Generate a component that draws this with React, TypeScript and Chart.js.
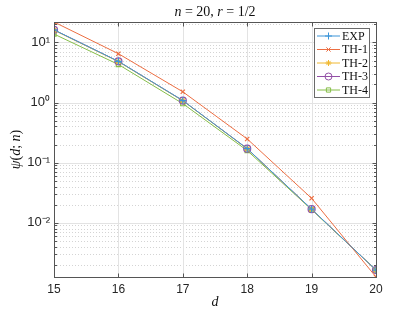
import React, { useEffect, useRef } from "react";
import { Chart, registerables } from "chart.js";
import { drawPoint } from "chart.js/helpers";

Chart.register(...registerables);

// ---- data ----
const dValues = [15, 16, 17, 18, 19, 20];
const expValues = [16.2, 4.85, 1.08, 0.171, 0.0168, 0.00163];
const th1Values = [21.9, 6.5, 1.51, 0.248, 0.0255, 0.00125];
const th2Values = [16.0, 4.8, 1.07, 0.17, 0.0167, 0.00163];
const th3Values = [16.2, 4.85, 1.08, 0.171, 0.0168, 0.00163];
const th4Values = [13.8, 4.3, 0.96, 0.159, 0.0165, 0.00163];
const seriesNames = ["EXP", "TH-1", "TH-2", "TH-3", "TH-4"];
const xTickValues = [15, 16, 17, 18, 19, 20];
const yTickValues = [0.01, 0.1, 1, 10];
const yTickLabels = ["10⁻²", "10⁻¹", "10⁰", "10¹"];

const colors = ["#3D95D8", "#EC6E42", "#F0B830", "#9350A6", "#86BE48"];
const pointStyles: any[] = ["cross", "crossRot", "star", "circle", "rect"];
const pointRadii = [3.5, 3, 3, 3.5, 3];

const allSeries = [expValues, th1Values, th2Values, th3Values, th4Values];
const yMin = Math.min(...allSeries.flat());
const yMax = Math.max(...allSeries.flat());

const SERIF = "'Liberation Serif', 'DejaVu Serif', serif";
const SANS = "'Liberation Sans', Arial, sans-serif";

function drawMixed(ctx: CanvasRenderingContext2D, parts: [string, boolean][], cx: number, cy: number, size: number) {
  const fonts = parts.map(([, it]) => `${it ? "italic " : ""}${size}px ${SERIF}`);
  let total = 0;
  const widths = parts.map(([t], i) => {
    ctx.font = fonts[i];
    const w = ctx.measureText(t).width;
    total += w;
    return w;
  });
  let x = cx - total / 2;
  ctx.textAlign = "left";
  ctx.textBaseline = "middle";
  parts.forEach(([t], i) => {
    ctx.font = fonts[i];
    ctx.fillText(t, x, cy);
    x += widths[i];
  });
}

const decorPlugin = {
  id: "decor",
  beforeDatasetsDraw(chart: any) {
    const { ctx, chartArea: a, scales } = chart;
    const xs = scales.x;
    const ys = scales.y;
    ctx.save();
    ctx.strokeStyle = "#d4d4d4";
    ctx.lineWidth = 1;
    ctx.setLineDash([1, 2]);
    for (let e = -4; e <= 2; e++) {
      for (let m = 2; m <= 9; m++) {
        const v = m * Math.pow(10, e);
        if (v <= yMin || v >= yMax) continue;
        const y = Math.round(ys.getPixelForValue(v)) + 0.5;
        ctx.beginPath();
        ctx.moveTo(a.left, y);
        ctx.lineTo(a.right, y);
        ctx.stroke();
      }
    }
    ctx.setLineDash([]);
    ctx.strokeStyle = "#e3e3e3";
    yTickValues.forEach((v) => {
      const y = Math.round(ys.getPixelForValue(v)) + 0.5;
      ctx.beginPath();
      ctx.moveTo(a.left, y);
      ctx.lineTo(a.right, y);
      ctx.stroke();
    });
    xTickValues.forEach((v) => {
      const x = Math.round(xs.getPixelForValue(v)) + 0.5;
      ctx.beginPath();
      ctx.moveTo(x, a.top);
      ctx.lineTo(x, a.bottom);
      ctx.stroke();
    });
    ctx.restore();
  },
  afterDatasetsDraw(chart: any) {
    const { ctx, chartArea: a, scales } = chart;
    const xs = scales.x;
    const ys = scales.y;
    ctx.save();
    ctx.strokeStyle = "#555555";
    ctx.lineWidth = 1;
    const L = Math.round(a.left) + 0.5;
    const R = Math.round(a.right) + 0.5;
    const T = Math.round(a.top) + 0.5;
    const B = Math.round(a.bottom) + 0.5;
    ctx.strokeRect(L, T, R - L, B - T);
    for (let e = -4; e <= 2; e++) {
      for (let m = 1; m <= 9; m++) {
        const v = m * Math.pow(10, e);
        if (v <= yMin || v >= yMax) continue;
        const y = Math.round(ys.getPixelForValue(v)) + 0.5;
        const len = m === 1 ? 4 : 2.5;
        ctx.beginPath();
        ctx.moveTo(L, y);
        ctx.lineTo(L + len, y);
        ctx.moveTo(R, y);
        ctx.lineTo(R - len, y);
        ctx.stroke();
      }
    }
    xTickValues.forEach((v) => {
      const x = Math.round(xs.getPixelForValue(v)) + 0.5;
      ctx.beginPath();
      ctx.moveTo(x, B);
      ctx.lineTo(x, B - 4);
      ctx.moveTo(x, T);
      ctx.lineTo(x, T + 4);
      ctx.stroke();
    });

    // legend
    const lx = 314.5, ly = 28.5, lw = 55, lh = 69;
    ctx.fillStyle = "#ffffff";
    ctx.fillRect(lx, ly, lw, lh);
    ctx.strokeStyle = "#6a6a6a";
    ctx.strokeRect(lx, ly, lw, lh);
    chart.data.datasets.forEach((ds: any, i: number) => {
      const y = 36 + i * 13.5;
      ctx.strokeStyle = ds.borderColor;
      ctx.lineWidth = 1;
      ctx.beginPath();
      ctx.moveTo(317, y);
      ctx.lineTo(340, y);
      ctx.stroke();
      ctx.strokeStyle = ds.borderColor;
      ctx.fillStyle = ds.pointBackgroundColor;
      drawPoint(ctx, {
        pointStyle: ds.pointStyle,
        radius: ds.pointRadius,
        borderWidth: 1.2,
        rotation: 0,
      } as any, 328.5, y);
      ctx.fillStyle = "#111111";
      ctx.font = `12px ${SERIF}`;
      ctx.textAlign = "left";
      ctx.textBaseline = "middle";
      ctx.fillText(ds.label, 342, y + 0.5);
    });
    ctx.restore();
  },
  afterDraw(chart: any) {
    const { ctx, chartArea: a } = chart;
    ctx.save();
    ctx.fillStyle = "#111111";
    const cx = (a.left + a.right) / 2;
    drawMixed(ctx, [["n", true], [" = 20, ", false], ["r", true], [" = 1/2", false]], cx, 12, 14);
    drawMixed(ctx, [["d", true]], cx, 302, 14);
    ctx.translate(16, (a.top + a.bottom) / 2);
    ctx.rotate(-Math.PI / 2);
    drawMixed(ctx, [["ψ", true], ["(", false], ["d", true], ["; ", false], ["n", true], [")", false]], 0, 0, 14);
    ctx.restore();
  },
};

export default function App() {
  const ref = useRef<HTMLCanvasElement | null>(null);
  useEffect(() => {
    if (!ref.current) return;
    const datasets = allSeries.map((vals, i) => ({
      label: seriesNames[i],
      data: dValues.map((d, j) => ({ x: d, y: vals[j] })),
      borderColor: colors[i],
      backgroundColor: i === 2 ? colors[i] : "rgba(255,255,255,0)",
      borderWidth: 1,
      pointStyle: pointStyles[i],
      pointRadius: pointRadii[i],
      pointBorderColor: colors[i],
      pointBackgroundColor: i === 2 ? colors[i] : "rgba(255,255,255,0)",
      pointBorderWidth: 1.2,
      tension: 0,
      fill: false,
    }));
    const chart = new Chart(ref.current, {
      type: "line",
      data: { datasets },
      options: {
        animation: false,
        responsive: false,
        maintainAspectRatio: false,
        layout: { padding: { top: 22, right: 39, left: 0, bottom: 0 } },
        plugins: { legend: { display: false }, tooltip: { enabled: false }, title: { display: false } },
        scales: {
          x: {
            type: "linear",
            min: 15,
            max: 20,
            grid: { display: false, drawTicks: false },
            border: { display: false },
            afterBuildTicks: (s: any) => {
              s.ticks = xTickValues.map((v) => ({ value: v }));
            },
            afterFit: (s: any) => {
              s.height = 35;
            },
            ticks: {
              padding: 5,
              color: "#262626",
              font: { family: SANS, size: 12 },
              maxRotation: 0,
              callback: (v: any) => String(v),
            },
          },
          y: {
            type: "logarithmic",
            min: yMin,
            max: yMax,
            grid: { display: false, drawTicks: false },
            border: { display: false },
            afterBuildTicks: (s: any) => {
              s.ticks = yTickValues.map((v) => ({ value: v }));
            },
            afterFit: (s: any) => {
              s.width = 54;
            },
            ticks: {
              padding: 4,
              color: "#262626",
              font: { family: SANS, size: 13 },
              callback: (v: any) => {
                const k = yTickValues.findIndex((t) => Math.abs(t - v) / t < 1e-6);
                return k >= 0 ? yTickLabels[k] : "";
              },
            },
          },
        },
      },
      plugins: [decorPlugin],
    } as any);
    return () => chart.destroy();
  }, []);
  return (
    <div style={{ position: "absolute", left: 0, top: 0, width: 415, height: 312, background: "#fff" }}>
      <canvas ref={ref} width={415} height={312} style={{ width: 415, height: 312 }} />
    </div>
  );
}
